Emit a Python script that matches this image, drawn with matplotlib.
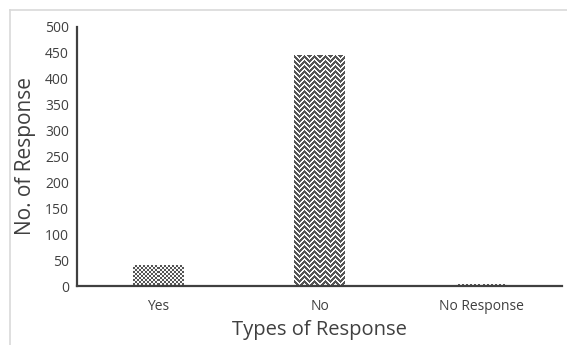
import numpy as np
import matplotlib.pyplot as plt
from matplotlib.lines import Line2D
from matplotlib.colors import ListedColormap

categories = ['Yes', 'No', 'No Response']
responses = [40, 445, 4]
fills = ['checker', 'zigzag', 'checker']

plt.rcParams['font.family'] = ['Open Sans', 'DejaVu Sans']


def pattern(kind, h, w):
    i, j = np.mgrid[0:h, 0:w]
    if kind == 'zigzag':
        p = j % 10
        tri = np.where(p < 5, p, 10 - p)
        return ((i - tri) % 5 < 3).astype(float)
    return ((i // 2 + j // 2) % 2).astype(float)


fig = plt.figure(figsize=(5.67, 3.45), dpi=100)
ax = fig.add_axes([0.136, 0.171, 0.855, 0.751])

bars = ax.bar(categories, responses, width=0.31, color='none', linewidth=0)
ax.set_ylim(0, 500)
ax.set_xlim(-0.5, 2.5)

# fill each bar with a pixel texture clipped to the bar shape
cmap = ListedColormap(['#fafafa', '#555555'])
for b, kind in zip(bars, fills):
    x0, y0 = b.get_x(), b.get_y()
    x1, y1 = x0 + b.get_width(), y0 + b.get_height()
    (px0, py0), (px1, py1) = ax.transData.transform([(x0, y0), (x1, y1)])
    w = max(int(round(px1 - px0)), 1)
    h = max(int(round(py1 - py0)), 1)
    im = ax.imshow(pattern(kind, h, w), cmap=cmap, vmin=0, vmax=1,
                   extent=(x0, x1, y0, y1), aspect='auto',
                   interpolation='nearest', origin='upper')
    im.set_clip_path(b)

ax.set_ylim(0, 500)
ax.set_xlim(-0.5, 2.5)
ax.set_yticks(range(0, 501, 50))
ax.tick_params(length=0, labelsize=10, colors='#404040', pad=6)
ax.tick_params(axis='x', pad=9)
for s in ['top', 'right']:
    ax.spines[s].set_visible(False)
for s in ['left', 'bottom']:
    ax.spines[s].set_color('#404040')
    ax.spines[s].set_linewidth(1.6)

ax.set_xlabel('Types of Response', fontsize=14.5, color='#404040', labelpad=5)
ax.set_ylabel('No. of Response', fontsize=15, color='#404040', labelpad=6)

# light border around the chart area
fig.add_artist(Line2D([0.018, 0.018], [0, 0.971], color='#d9d9d9', lw=1.2))
fig.add_artist(Line2D([0.018, 1], [0.971, 0.971], color='#d9d9d9', lw=1.2))

fig.savefig('out.png', dpi=100)
